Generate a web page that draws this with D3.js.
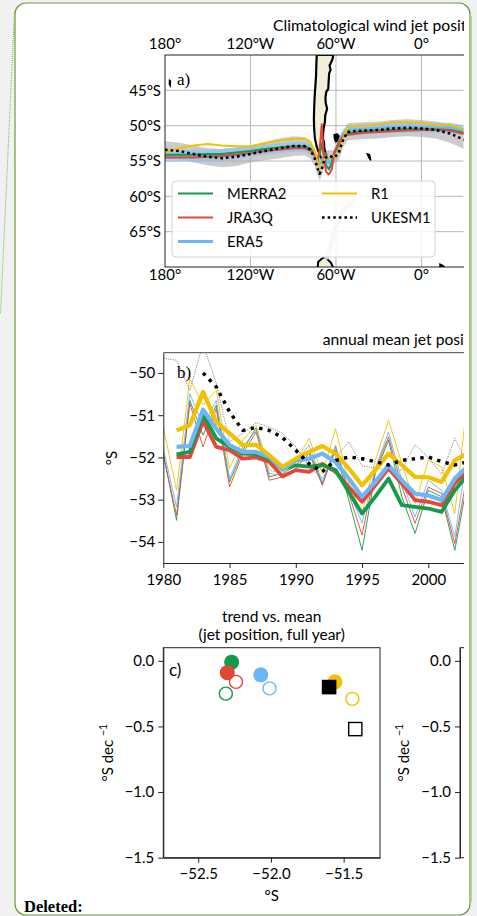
<!DOCTYPE html>
<html>
<head>
<meta charset="utf-8">
<script src="https://cdn.jsdelivr.net/npm/d3@7"></script>
<style>
  body { margin: 0; background: #f1f1f1; }
  svg { display: block; font-family: Lato, "Open Sans", sans-serif; }
</style>
</head>
<body>
<div class="chart"></div>
<script>
"use strict";

// DATA ----------------------------------
const names = ["MERRA2", "JRA3Q", "ERA5", "R1", "UKESM1"];
const colors = ["#15994a", "#e2473a", "#6cb6f5", "#f2c200", "#000000"];

// panel a: jet latitude along longitude
const mapLon = [-180, -170, -160, -150, -140, -130, -120, -110, -100, -90, -82, -78, -75, -73, -71.5, -70,
  -68.5, -67, -65, -63, -61, -58, -55, -52, -48, -40, -30, -20, -10, 0, 10, 20, 30];
const jetMERRA2 = [-54.1, -54.1, -54.1, -54.0, -54.0, -53.8, -53.6, -53.3, -53.1, -52.9, -52.9, -53.3, -54.0, -54.8, -54.2, -52.5,
  -54.3, -55.6, -56.2, -55.3, -53.8, -52.6, -51.6, -51.1, -51.0, -50.8, -50.7, -50.6, -50.5, -50.5, -50.5, -50.6, -51.0];
const jetJRA3Q = [-54.5, -54.5, -54.5, -54.4, -54.3, -54.1, -53.9, -53.6, -53.4, -53.2, -53.2, -53.5, -54.2, -55.0, -53.5, -49.8,
  -54.5, -56.5, -56.9, -56.2, -53.6, -52.4, -51.5, -51.3, -51.2, -51.0, -50.9, -50.8, -50.7, -50.6, -50.6, -50.7, -51.2];
const jetERA5 = [-54.3, -54.3, -54.2, -54.2, -54.1, -53.9, -53.7, -53.4, -53.2, -53.0, -53.0, -53.3, -54.0, -54.9, -55.4, -55.2,
  -54.8, -55.0, -55.2, -55.0, -54.0, -52.5, -51.2, -50.7, -50.6, -50.5, -50.4, -50.3, -50.3, -50.3, -50.3, -50.3, -50.6];
const jetR1 = [-53.7, -53.2, -52.8, -52.6, -52.8, -52.9, -52.9, -52.5, -52.1, -51.9, -51.8, -52.3, -53.6, -55.0, -55.8, -55.4,
  -54.8, -54.5, -54.5, -54.4, -54.3, -53.6, -51.8, -50.4, -50.1, -50.0, -49.8, -49.5, -49.5, -49.6, -49.9, -49.9, -50.5];
const jetUKESM1 = [-53.4, -53.6, -54.0, -54.4, -54.6, -54.4, -54.0, -53.6, -53.2, -52.9, -52.9, -53.4, -54.6, -56.0, -56.8, -56.2,
  -55.0, -54.5, -54.3, -54.4, -54.5, -53.8, -52.0, -50.9, -50.8, -50.7, -50.6, -50.4, -50.3, -50.4, -50.6, -51.1, -52.0];
const spreadUKESM1 = [1.2, 1.2, 1.2, 1.2, 1.3, 1.3, 1.2, 1.3, 1.4, 1.4, 1.3, 1.2, 1.1, 1.0, 0.9, 0.9,
  0.9, 0.9, 0.9, 0.9, 0.9, 1.0, 1.1, 1.2, 1.2, 1.2, 1.2, 1.2, 1.2, 1.2, 1.2, 1.3, 1.3];
const spreadERA5 = [0.8, 0.8, 0.8, 0.8, 0.8, 0.8, 0.7, 0.7, 0.7, 0.7, 0.7, 0.7, 0.7, 0.7, 0.7, 0.7,
  0.7, 0.7, 0.7, 0.7, 0.7, 0.7, 0.7, 0.7, 0.7, 0.7, 0.7, 0.7, 0.7, 0.7, 0.7, 0.7, 0.7];

// land outlines (lon, lat)
const southAmerica = [[-73.5, -40], [-73.8, -41.5], [-74, -43], [-74.5, -44.5], [-75, -46], [-75.3, -47.5], [-75.5, -49],
  [-75.3, -50.5], [-74.8, -51.8], [-73.5, -53], [-72, -53.8], [-70.5, -54.6], [-68.5, -55.2], [-67, -55.1], [-65.5, -54.8],
  [-66.5, -54.3], [-68.2, -53.2], [-68.4, -52.4], [-69.2, -51.8], [-69, -51], [-68.5, -50.2], [-67.8, -49.5], [-67.5, -48.5],
  [-66.2, -47.6], [-67.2, -46.8], [-67.4, -46], [-66.8, -45.2], [-65.4, -44.8], [-65.2, -44], [-64.8, -42.6], [-63.8, -42.1],
  [-64.5, -41.5], [-63.3, -41], [-62.3, -40.5], [-62, -40]];
const islands = [
  [[-61.3, -51.3], [-59, -51.2], [-57.8, -51.5], [-58.5, -52.2], [-60.2, -52.3], [-61, -51.9]],
  [[-38, -54], [-36.5, -54.1], [-35.6, -54.9], [-37, -54.5]],
  [[-176.8, -43.6], [-176.2, -43.7], [-176.4, -44.3], [-176.9, -44.1]],
  [[13, -69.6], [15, -69.8], [17, -70.2], [13, -70.2]]];
const antarctica = [[-73, -70.5], [-72.5, -69.3], [-70.5, -68.9], [-68, -68.6], [-66, -68.9], [-63.5, -69.4], [-61, -70.5]];
const peninsula = [[-48.5, -60.7], [-54.5, -61.8], [-57.5, -62.9], [-59.5, -64.0], [-61.5, -65.3], [-63.2, -66.6],
  [-64.8, -67.8], [-66.5, -68.6]];

// panel b: annual mean jet position
const years = d3.range(1980, 2004);
const annMERRA2 = [-51.9, -53.49, -50.65, -51.47, -50.76, -52.58, -51.83, -51.30, -52.46, -52.38, -52.2, -51.83, -52.62,
  -51.83, -53.01, -54.20, -52.38, -51.59, -52.93, -53.80, -52.78, -52.93, -54.20, -52.5];
const annJRA3Q = [-51.95, -53.37, -50.72, -51.75, -50.84, -52.70, -51.91, -51.40, -52.54, -52.46, -52.26, -51.91, -52.66,
  -51.75, -52.86, -53.84, -52.30, -51.51, -52.70, -53.56, -52.70, -52.86, -54.04, -52.3];
const annERA5 = [-51.8, -53.17, -50.49, -51.24, -50.65, -52.50, -51.75, -51.36, -52.38, -52.42, -52.1, -51.71, -52.58,
  -51.71, -52.78, -53.56, -52.26, -51.40, -52.54, -53.41, -52.54, -52.78, -53.88, -51.8];
const annR1 = [-51.28, -52.78, -50.13, -50.76, -50.41, -52.26, -51.59, -51.24, -52.30, -52.38, -52.1, -51.55, -52.38,
  -51.32, -52.62, -53.33, -52.07, -51.12, -52.15, -53.09, -52.07, -52.22, -53.33, -50.49];
const annUKESM1 = [-49.65, -49.7, -50.41, -49.3, -50.25, -51.63, -51.43, -51.18, -51.28, -51.43, -51.75, -52.22, -52.5,
  -52.0, -51.63, -52.2, -52.25, -52.3, -52.3, -51.7, -52.0, -52.4, -51.55, -52.2];
// smoothed (running mean) curves
const smMERRA2 = [null, -51.93, -51.87, -50.99, -51.55, -51.75, -51.91, -51.92, -52.03, -52.26, -52.19, -52.22, -52.18,
  -52.30, -52.82, -53.33, -52.93, -52.50, -53.13, -53.17, -53.21, -53.29, -52.78, -52.4];
const smJRA3Q = [null, -51.99, -51.99, -51.14, -51.75, -51.83, -52.03, -52.00, -52.10, -52.45, -52.30, -52.34, -52.15,
  -52.34, -52.70, -53.05, -52.66, -52.26, -52.62, -53.01, -53.05, -53.13, -52.62, -52.3];
const smERA5 = [null, -51.75, -51.73, -50.87, -51.32, -51.71, -51.87, -51.87, -51.99, -52.29, -52.07, -52.03, -51.91,
  -52.11, -52.50, -52.93, -52.58, -52.18, -52.54, -52.86, -52.90, -53.01, -52.50, -52.2];
const smR1 = [null, -51.36, -51.24, -50.45, -51.16, -51.43, -51.71, -51.70, -51.95, -52.22, -52.03, -51.87, -51.73,
  -51.91, -52.26, -52.66, -52.30, -51.91, -52.18, -52.46, -52.47, -52.58, -52.07, -51.9];
const smUKESM1 = [null, null, null, -50.0, -50.33, -50.92, -51.36, -51.29, -51.36, -51.53, -51.83, -52.15, -52.34,
  -52.07, -51.99, -52.03, -52.10, -52.18, -52.07, -52.03, -51.99, -52.10, -52.18, -52.1];

// panel c: trend vs. mean
const meanFilled = [-52.27, -52.30, -52.07, -51.56, -51.60];
const trendFilled = [-0.01, -0.09, -0.107, -0.16, -0.20];
const meanOpen = [-52.31, -52.24, -52.01, -51.44, -51.42];
const trendOpen = [-0.25, -0.16, -0.21, -0.29, -0.52];

const lonTicks = [-180, -120, -60, 0];
const latTicks = [-45, -50, -55, -60, -65];
const yearTicks = [1980, 1985, 1990, 1995, 2000];
const posTicks = [-54, -53, -52, -51, -50];
const cxTicks = [-52.5, -52.0, -51.5];
const cyTicks = [0, -0.5, -1.0, -1.5];

// CHART INIT ----------------------------
const W = 477, H = 916;
const FS = 15; // tick label size
const svg = d3.select(".chart").append("svg").attr("width", W).attr("height", H);

// page frame
svg.append("rect").attr("width", W).attr("height", H).attr("fill", "#f1f1f1");
svg.append("rect").attr("x", 15).attr("y", 3).attr("width", 455).attr("height", 912).attr("rx", 11)
  .attr("fill", "#fff").attr("stroke", "#6e9a3c").attr("stroke-width", 1.2);
svg.append("line").attr("x1", 470.5).attr("x2", 470.5).attr("y1", 16).attr("y2", 902)
  .attr("stroke", "#a8c88b").attr("stroke-width", 2.5);
svg.append("line").attr("x1", 14.5).attr("y1", 12).attr("x2", 0.5).attr("y2", 314)
  .attr("stroke", "#86ae57").attr("stroke-width", 1).attr("stroke-dasharray", "1 1");
svg.append("text").attr("x", 24).attr("y", 912).text("Deleted:")
  .style("font-family", "'Liberation Serif', 'DejaVu Serif', serif").style("font-weight", "bold").style("font-size", "16.5px");

const defs = svg.append("defs");
defs.append("clipPath").attr("id", "figclip").append("rect").attr("x", 0).attr("y", 0).attr("width", 464).attr("height", H);
const fig = svg.append("g").attr("clip-path", "url(#figclip)");

function styleAxis(g) {
  g.attr("font-family", "Lato, 'Open Sans', sans-serif").attr("font-size", FS);
  g.selectAll("line, path").attr("stroke", "#222");
}

// PANEL A: map ---------------------------
const xLon = d3.scaleLinear().domain([-180, 29.5]).range([165, 463.5]);
const yLat = d3.scaleLinear().domain([-40, -70]).range([55, 267]);
defs.append("clipPath").attr("id", "mapclip").append("rect")
  .attr("x", 165).attr("y", 55).attr("width", 298.5).attr("height", 212);

fig.append("text").attr("x", 273).attr("y", 31).attr("font-size", 15.7).text("Climatological wind jet position");

const mapG = fig.append("g").attr("clip-path", "url(#mapclip)");
mapG.selectAll(".vgrid").data(lonTicks.slice(1)).join("line")
  .attr("x1", (d) => xLon(d)).attr("x2", (d) => xLon(d)).attr("y1", 55).attr("y2", 267)
  .attr("stroke", "#b9b9b9").attr("stroke-width", 1);
mapG.selectAll(".hgrid").data(latTicks).join("line")
  .attr("y1", (d) => yLat(d)).attr("y2", (d) => yLat(d)).attr("x1", 165).attr("x2", 464)
  .attr("stroke", "#b9b9b9").attr("stroke-width", 1);

const geoLine = d3.line().x((d) => xLon(d[0])).y((d) => yLat(d[1]));
mapG.append("path").attr("d", geoLine(southAmerica) + "Z")
  .attr("fill", "#f1efdc").attr("stroke", "#000").attr("stroke-width", 2.2).attr("stroke-linejoin", "round");
mapG.append("path").attr("d", geoLine(antarctica) + "Z")
  .attr("fill", "#f1efdc").attr("stroke", "#000").attr("stroke-width", 2);
mapG.append("path").attr("d", geoLine(peninsula)).attr("fill", "none")
  .attr("stroke", "#cdcdcd").attr("stroke-width", 5).attr("stroke-linecap", "round").attr("stroke-dasharray", "7 3");
mapG.selectAll(".island").data(islands).join("path").attr("d", (d) => geoLine(d) + "Z")
  .attr("fill", "#000").attr("stroke", "#000").attr("stroke-width", 1.5);

const band = d3.area().x((d) => xLon(d[0])).y0((d) => yLat(d[1] - d[2])).y1((d) => yLat(d[1] + d[2]));
mapG.append("path").attr("d", band(mapLon.map((lon, i) => [lon, jetUKESM1[i], spreadUKESM1[i]])))
  .attr("fill", "#a9a9a9").attr("opacity", 0.6);
mapG.append("path").attr("d", band(mapLon.map((lon, i) => [lon, jetERA5[i], spreadERA5[i]])))
  .attr("fill", "#8cc4f4").attr("opacity", 0.75);

const mapSeries = [jetMERRA2, jetJRA3Q, jetERA5, jetR1, jetUKESM1];
const mapOrder = [2, 0, 1, 3, 4];
mapOrder.forEach((k) => {
  mapG.append("path")
    .attr("d", geoLine(mapLon.map((lon, i) => [lon, mapSeries[k][i]])))
    .attr("fill", "none").attr("stroke", colors[k])
    .attr("stroke-width", k === 2 ? 3 : k === 4 ? 2.6 : 2)
    .attr("stroke-dasharray", k === 4 ? "2.6 3" : null)
    .attr("stroke-linejoin", "round");
});

// map frame and labels
fig.append("rect").attr("x", 165).attr("y", 55).attr("width", 310).attr("height", 212)
  .attr("fill", "none").attr("stroke", "#222").attr("stroke-width", 1);
const lonLabel = (d) => (d === -180 ? "180°" : d < 0 ? -d + "°W" : d + "°");
[49, 280].forEach((yy) => {
  fig.selectAll(null).data(lonTicks).join("text")
    .attr("x", (d) => xLon(d)).attr("y", yy).attr("text-anchor", "middle").attr("font-size", FS)
    .text(lonLabel);
});
fig.selectAll(null).data(latTicks).join("text")
  .attr("x", 161).attr("y", (d) => yLat(d)).attr("dy", "0.36em").attr("text-anchor", "end").attr("font-size", FS)
  .text((d) => -d + "°S");
fig.append("text").attr("x", 177).attr("y", 85).text("a)")
  .style("font-family", "'Liberation Serif', serif").style("font-size", "17px");

// legend
const leg = fig.append("g");
leg.append("rect").attr("x", 172).attr("y", 181).attr("width", 263).attr("height", 76).attr("rx", 4)
  .attr("fill", "#fff").attr("fill-opacity", 0.85).attr("stroke", "#d4d4d4");
const legPos = [[178, 193.5], [178, 217.5], [178, 241.5], [322, 193.5], [322, 217.5]];
names.forEach((n, k) => {
  const [lx, ly] = legPos[k];
  leg.append("line").attr("x1", lx).attr("x2", lx + 35).attr("y1", ly).attr("y2", ly)
    .attr("stroke", colors[k]).attr("stroke-width", k === 2 ? 3 : k === 4 ? 2.6 : 2)
    .attr("stroke-dasharray", k === 4 ? "2.6 3" : null);
  leg.append("text").attr("x", lx + 49).attr("y", ly).attr("dy", "0.36em").attr("font-size", 14.8).text(n);
});

// PANEL B: time series -------------------
const xYear = d3.scaleLinear().domain([1980, 2002.8]).range([163.3, 465.4]);
const yPos = d3.scaleLinear().domain([-54.5, -49.52]).range([563, 352.7]);
defs.append("clipPath").attr("id", "bclip").append("rect")
  .attr("x", 163.3).attr("y", 352.7).attr("width", 302).attr("height", 210.3);

fig.append("text").attr("x", 322.7).attr("y", 345).attr("font-size", 15.7).text("annual mean jet position");

const bG = fig.append("g").attr("clip-path", "url(#bclip)");
const yrLine = d3.line().defined((d) => d[1] !== null).x((d) => xYear(d[0])).y((d) => yPos(d[1]));
const annSeries = [annMERRA2, annJRA3Q, annERA5, annR1, annUKESM1];
const smSeries = [smMERRA2, smJRA3Q, smERA5, smR1, smUKESM1];

annSeries.forEach((s, k) => {
  bG.append("path").attr("d", yrLine(years.map((y, i) => [y, s[i]])))
    .attr("fill", "none").attr("stroke", k === 4 ? "#7a7a7a" : colors[k])
    .attr("stroke-width", 0.9).attr("stroke-dasharray", k === 4 ? "1.2 1.2" : null);
});
[1, 0, 2, 3, 4].forEach((k) => {
  bG.append("path").attr("d", yrLine(years.map((y, i) => [y, smSeries[k][i]])))
    .attr("fill", "none").attr("stroke", colors[k])
    .attr("stroke-width", k === 4 ? 3.4 : k === 2 || k === 3 ? 4.2 : 3.8)
    .attr("stroke-dasharray", k === 4 ? "3.4 5.3" : null)
    .attr("stroke-linejoin", "round");
});

fig.append("line").attr("x1", 163.3).attr("x2", 466).attr("y1", 352.7).attr("y2", 352.7)
  .attr("stroke", "#444").attr("stroke-width", 1);
fig.append("g").attr("transform", "translate(163.3,0)")
  .call(d3.axisLeft(yPos).tickValues(posTicks).tickFormat(d3.format("d")).tickSize(5).tickPadding(3).tickSizeOuter(0))
  .call(styleAxis);
fig.append("g").attr("transform", "translate(0,563)")
  .call(d3.axisBottom(xYear).tickValues(yearTicks).tickFormat(d3.format("d")).tickSize(5).tickPadding(6).tickSizeOuter(0))
  .call(styleAxis);
fig.append("text").attr("transform", "translate(117,458) rotate(-90)").attr("text-anchor", "middle")
  .attr("font-size", FS).text("°S");
fig.append("text").attr("x", 177).attr("y", 378).text("b)")
  .style("font-family", "'Liberation Serif', serif").style("font-size", "17px");

// PANEL C: scatter -----------------------
const xC = d3.scaleLinear().domain([-52.74, -51.25]).range([163.3, 380]);
const yC = d3.scaleLinear().domain([-1.5, 0.1]).range([857.7, 647.7]);
const fmt1 = d3.format(".1f");

fig.append("text").attr("x", 271.7).attr("y", 622).attr("text-anchor", "middle").attr("font-size", 15.5).text("trend vs. mean");
fig.append("text").attr("x", 271.7).attr("y", 639.5).attr("text-anchor", "middle").attr("font-size", 15.5)
  .text("(jet position, full year)");

fig.append("rect").attr("x", 163.3).attr("y", 647.7).attr("width", 216.7).attr("height", 210)
  .attr("fill", "none").attr("stroke", "#222").attr("stroke-width", 1);
fig.append("g").attr("transform", "translate(163.3,0)")
  .call(d3.axisLeft(yC).tickValues(cyTicks).tickFormat(fmt1).tickSize(5).tickPadding(4).tickSizeOuter(0))
  .call(styleAxis);
fig.append("g").attr("transform", "translate(0,857.7)")
  .call(d3.axisBottom(xC).tickValues(cxTicks).tickFormat(fmt1).tickSize(5).tickPadding(6).tickSizeOuter(0))
  .call(styleAxis);

function yDecLabel(x) {
  const t = fig.append("text").attr("transform", `translate(${x},752.7) rotate(-90)`)
    .attr("text-anchor", "middle").attr("font-size", FS);
  t.append("tspan").text("°S dec ");
  t.append("tspan").attr("baseline-shift", "super").attr("font-size", 10.5).text("−1");
}
yDecLabel(113);
fig.append("text").attr("x", 271.7).attr("y", 901).attr("text-anchor", "middle").attr("font-size", FS).text("°S");
fig.append("text").attr("x", 169).attr("y", 676).attr("font-size", 17).text("c)");

const pts = fig.append("g");
names.forEach((n, k) => {
  if (k === 4) {
    pts.append("rect").attr("x", xC(meanFilled[k]) - 7.3).attr("y", yC(trendFilled[k]) - 7.3)
      .attr("width", 14.6).attr("height", 14.6).attr("fill", "#000");
  } else {
    pts.append("circle").attr("cx", xC(meanFilled[k])).attr("cy", yC(trendFilled[k])).attr("r", 7.5)
      .attr("fill", colors[k]);
  }
});
names.forEach((n, k) => {
  if (k === 4) {
    pts.append("rect").attr("x", xC(meanOpen[k]) - 6.6).attr("y", yC(trendOpen[k]) - 6.6)
      .attr("width", 13.2).attr("height", 13.2).attr("fill", "none").attr("stroke", "#000").attr("stroke-width", 1.4);
  } else {
    pts.append("circle").attr("cx", xC(meanOpen[k])).attr("cy", yC(trendOpen[k])).attr("r", 6.5)
      .attr("fill", "none").attr("stroke", colors[k]).attr("stroke-width", 1.4);
  }
});

// second (cropped) scatter panel
fig.append("rect").attr("x", 460).attr("y", 647.7).attr("width", 216.7).attr("height", 210)
  .attr("fill", "none").attr("stroke", "#222").attr("stroke-width", 1);
fig.append("g").attr("transform", "translate(460,0)")
  .call(d3.axisLeft(yC).tickValues(cyTicks).tickFormat(fmt1).tickSize(5).tickPadding(4).tickSizeOuter(0))
  .call(styleAxis);
yDecLabel(409);
</script>
</body>
</html>
